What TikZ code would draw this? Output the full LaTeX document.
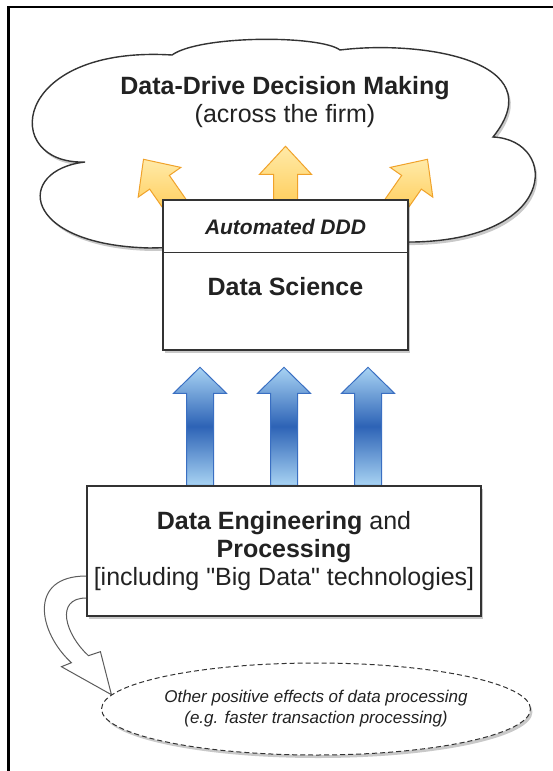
\documentclass[tikz,border=0pt]{standalone}
\usepackage{fontspec}
\setmainfont{Liberation Sans}[Ligatures=TeXOff]
\usetikzlibrary{calc, positioning, shapes.geometric, shadows}

\definecolor{lineGray}{HTML}{333333}
\definecolor{textDark}{HTML}{222222}
\definecolor{yellowLight}{HTML}{FFEAA8}
\definecolor{yellowDark}{HTML}{FFC23C}
\definecolor{yellowEdge}{HTML}{F0A22A}
\definecolor{blueLight}{HTML}{A8D3F3}
\definecolor{blueDark}{HTML}{2D63B6}
\definecolor{blueEdge}{HTML}{3A6FC2}

\pgfdeclarelayer{cloudLayer}
\pgfdeclarelayer{arrowLayer}
\pgfsetlayers{cloudLayer,arrowLayer,main}

\tikzset{
  softShadow/.style={drop shadow={shadow xshift=2pt,shadow yshift=-3pt,opacity=.3,fill=black!70}},
  box/.style={draw=lineGray, line width=1.4pt, fill=white, softShadow},
  bigText/.style={font=\fontsize{25}{28}\selectfont, text=textDark, align=center},
  yellowArrow/.style={draw=yellowEdge, line width=1pt, top color=yellowLight, bottom color=yellowDark},
  blueArrow/.style={draw=blueEdge, line width=1pt, top color=blueLight, bottom color=blueLight, middle color=blueDark}
}

% block arrow: style, foot, tip, half shaft, half head, head length
\newcommand{\blockArrow}[6]{%
  \coordinate (headBase) at ($(#3)!#6!(#2)$);
  \path[#1] ($(#2)!#4!90:(#3)$) -- ($(headBase)!#4!90:(#3)$) -- ($(headBase)!#5!90:(#3)$) -- (#3)
    -- ($(headBase)!#5!-90:(#3)$) -- ($(headBase)!#4!-90:(#3)$) -- ($(#2)!#4!-90:(#3)$) -- cycle;
}

\begin{document}
\begin{tikzpicture}[x=1pt, y=-1pt]
	\useasboundingbox (0,0) rectangle (553,771);
	
	% Frame
	\draw[line width=2.5pt] (8.7,771) -- (8.7,7) -- (553,7);
	
	% Cloud
	\node (cloud) [bigText] at (285,102) {\textbf{Data-Drive Decision Making}\\(across the firm)};
	\begin{pgfonlayer}{cloudLayer}
		\draw[draw=lineGray, line width=1.4pt, fill=white, softShadow]
			(150,248) .. controls (20,245) and (15,170) .. (85,162)
			.. controls (0,165) and (10,45) .. (172,55)
			.. controls (200,35) and (320,35) .. (340,50)
			.. controls (420,40) and (555,60) .. (493,137)
			.. controls (560,140) and (560,245) .. (400,242) -- cycle;
	\end{pgfonlayer}
	
	% Data science
	\node (ds) [box, minimum width=245, minimum height=150] at (285.5,275) {};
	\node (autoLabel) [font=\bfseries\itshape\fontsize{21}{24}\selectfont, text=textDark] at ($(ds.north)+(0,28)$) {Automated DDD};
	\draw[draw=lineGray, line width=1.4pt] ($(ds.north west)+(0,53)$) -- ($(ds.north east)+(0,53)$);
	\node (dsLabel) [bigText] at ($(ds.north)+(0,87)$) {\textbf{Data Science}};
	
	% Data engineering
	\node (eng) [box, bigText, minimum width=394, minimum height=130] at (284,551)
		{\textbf{Data Engineering} and\\\textbf{Processing}\\{[}including "Big Data" technologies{]}};
	
	% Other effects
	\node (other) [ellipse, draw=lineGray, dash pattern=on 5pt off 3pt, line width=1pt, fill=white, softShadow,
		minimum width=425, minimum height=92, inner sep=0pt, align=center, text=textDark,
		font=\itshape\fontsize{17}{21}\selectfont] at (316,709)
		{Other positive effects of data processing\\(e.g. faster transaction processing)};
	
	\begin{pgfonlayer}{arrowLayer}
		% Yellow arrows
		\coordinate (leftFoot) at ($(ds.north)+(-96,26)$);
		\coordinate (leftTip) at ($(ds.north)+(-142,-40)$);
		\coordinate (midFoot) at ($(ds.north)+(0,30)$);
		\coordinate (midTip) at ($(ds.north)+(0,-53)$);
		\coordinate (rightFoot) at ($(ds.north)+(96,26)$);
		\coordinate (rightTip) at ($(ds.north)+(142,-40)$);
		\blockArrow{yellowArrow}{leftFoot}{leftTip}{12pt}{26pt}{28pt}
		\blockArrow{yellowArrow}{midFoot}{midTip}{12pt}{26pt}{28pt}
		\blockArrow{yellowArrow}{rightFoot}{rightTip}{12pt}{26pt}{28pt}
		
		% Blue arrows
		\foreach \dx [count=\i] in {-84,0,84} {
			\coordinate (engFoot\i) at ($(eng.north)+(\dx,0)$);
			\coordinate (engTip\i) at ($(eng.north)+(\dx,-118)$);
			\blockArrow{blueArrow}{engFoot\i}{engTip\i}{13.5pt}{26.5pt}{26pt}
		}
		
		% Bent arrow
		\coordinate (bendTip) at (other.176);
		\draw[draw=lineGray!80, line width=1pt, fill=white]
			($(eng.west)+(20,25)$) -- ($(eng.west)+(0,25)$)
			.. controls +(-59,0) and +(-33,-30) .. ($(bendTip)+(-40,-32)$)
			-- ($(bendTip)+(-50,-28)$) -- (bendTip) -- ($(bendTip)+(-11,-43)$) -- ($(bendTip)+(-23,-39)$)
			.. controls +(-23,-21) and +(-32,0) .. ($(eng.west)+(0,47)$)
			-- ($(eng.west)+(20,47)$) -- cycle;
	\end{pgfonlayer}
\end{tikzpicture}
\end{document}
